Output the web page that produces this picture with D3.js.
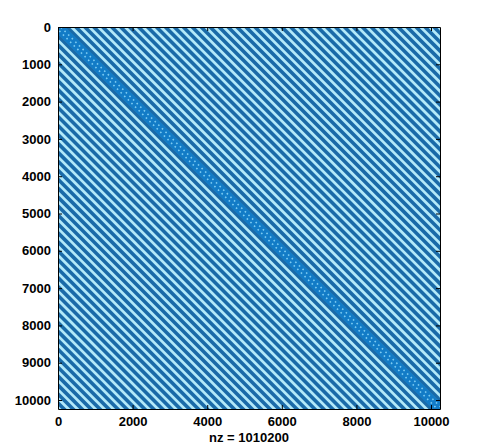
<!DOCTYPE html>
<html>
<head>
<meta charset="utf-8">
<script src="https://cdn.jsdelivr.net/npm/d3@7"></script>
<style>
  body { margin: 0; background: #fff; }
  text { font-family: "Liberation Sans", Arial, sans-serif; font-weight: bold; }
</style>
</head>
<body>
<div id="chart"></div>
<script>
// Matrix size and the off-diagonal offsets seen as stripes (mirrored on both sides)
const n = 10240;
const offsets = [240, 480, 720, 960, 1200, 1440, 1680, 1920, 2160, 2400,
  2640, 2880, 3120, 3360, 3600, 3840, 4080, 4320, 4560, 4800,
  5040, 5280, 5520, 5760, 6000, 6240, 6480, 6720, 6960, 7200,
  7440, 7680, 7920, 8160, 8400, 8640, 8880, 9120, 9360, 9600,
  9840, 10080];
const bandHalfWidth = 140;
const xTicks = [0, 2000, 4000, 6000, 8000, 10000];
const yTicks = [0, 1000, 2000, 3000, 4000, 5000, 6000, 7000, 8000, 9000, 10000];
const nzLabel = "nz = 1010200";

const margin = { top: 27, left: 58 };
const size = 382;

const svg = d3.select("#chart")
  .append("svg")
  .attr("width", 501)
  .attr("height", 448);

const g = svg.append("g")
  .attr("transform", `translate(${margin.left}, ${margin.top})`);

const x = d3.scaleLinear().domain([0, n + 1]).range([0, size]);
const y = d3.scaleLinear().domain([0, n + 1]).range([0, size]);

g.append("clipPath").attr("id", "clip")
  .append("rect").attr("width", size).attr("height", size);

const plot = g.append("g").attr("clip-path", "url(#clip)");

// light background of the packed markers
plot.append("rect")
  .attr("width", size)
  .attr("height", size)
  .attr("fill", "#b3e9f9");

// stripes: col = row + k
const diag = offsets.flatMap(k => [k, -k]);
plot.selectAll(".stripe")
  .data(diag)
  .enter()
  .append("line")
  .attr("class", "stripe")
  .attr("x1", k => x(k - n))
  .attr("y1", y(-n))
  .attr("x2", k => x(k + 2 * n))
  .attr("y2", y(2 * n))
  .attr("stroke", "#1a6aa8")
  .attr("stroke-width", 3.6);

// dense band around the main diagonal
plot.append("line")
  .attr("x1", x(-n)).attr("y1", y(-n))
  .attr("x2", x(2 * n)).attr("y2", y(2 * n))
  .attr("stroke", "#127bc6")
  .attr("stroke-width", (x(bandHalfWidth) - x(0)) * 2 * Math.SQRT1_2 + 3);

[-70, 70].forEach(k => {
  plot.append("line")
    .attr("x1", x(k - n)).attr("y1", y(-n))
    .attr("x2", x(k + 2 * n)).attr("y2", y(2 * n))
    .attr("stroke", "#7ccbf2")
    .attr("stroke-width", 1.6)
    .attr("stroke-dasharray", "1.6,3.5");
});

// axes with inward ticks, mirrored box
const tick = 4;
const fmt = d3.format("d");
g.append("g")
  .attr("transform", `translate(0, ${size})`)
  .call(d3.axisBottom(x).tickValues(xTicks).tickFormat(fmt).tickSizeInner(-tick).tickSizeOuter(0).tickPadding(8));
g.append("g")
  .call(d3.axisTop(x).tickValues(xTicks).tickSizeInner(-tick).tickSizeOuter(0).tickFormat(""));
g.append("g")
  .call(d3.axisLeft(y).tickValues(yTicks).tickFormat(fmt).tickSizeInner(-tick).tickSizeOuter(0).tickPadding(7));
g.append("g")
  .attr("transform", `translate(${size}, 0)`)
  .call(d3.axisRight(y).tickValues(yTicks).tickSizeInner(-tick).tickSizeOuter(0).tickFormat(""));

g.selectAll(".domain").attr("stroke", "#000").attr("stroke-width", 1);
g.selectAll(".tick line").attr("stroke", "#000");
g.selectAll(".tick text")
  .attr("font-size", 13)
  .attr("font-weight", "bold")
  .attr("fill", "#000")
  .style("font-family", "Liberation Sans, Arial, sans-serif");

g.append("text")
  .attr("x", size / 2)
  .attr("y", size + 33)
  .attr("text-anchor", "middle")
  .attr("font-size", 13)
  .text(nzLabel);
</script>
</body>
</html>
